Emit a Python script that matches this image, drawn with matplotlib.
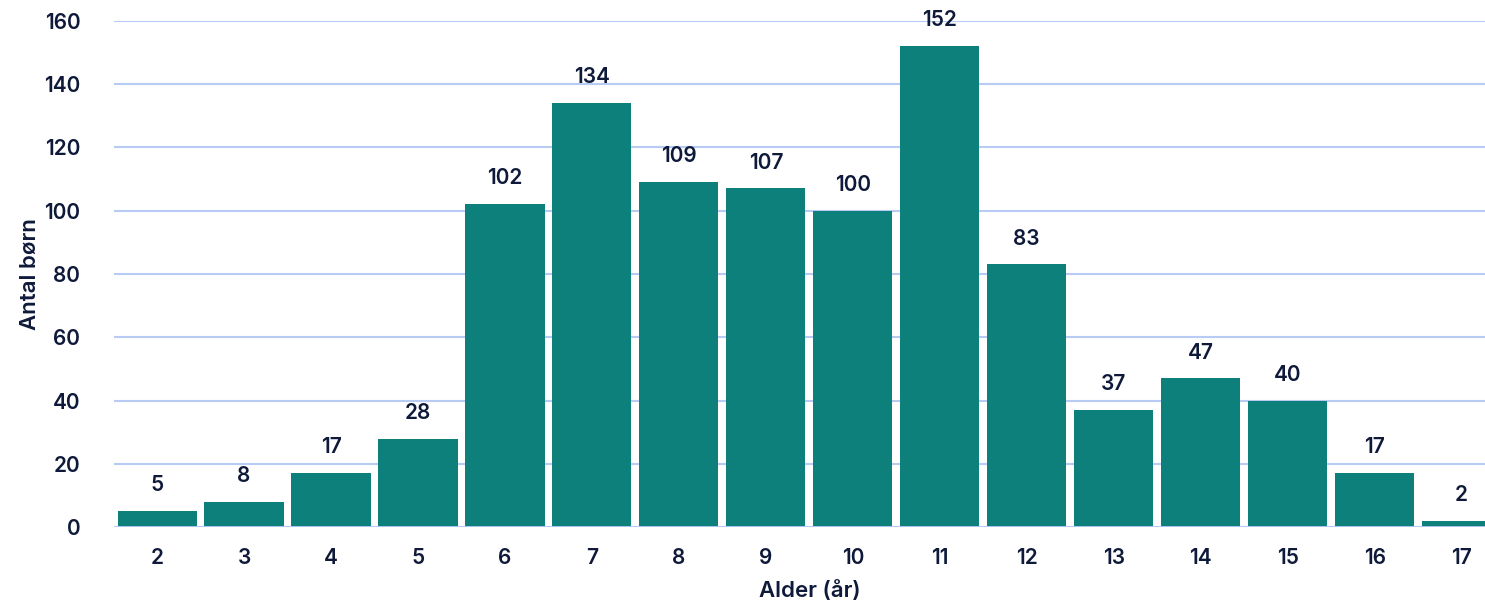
import matplotlib.pyplot as plt

ages = [2, 3, 4, 5, 6, 7, 8, 9, 10, 11, 12, 13, 14, 15, 16, 17]
counts = [5, 8, 17, 28, 102, 134, 109, 107, 100, 152, 83, 37, 47, 40, 17, 2]
yticks = [0, 20, 40, 60, 80, 100, 120, 140, 160]

BAR = '#0e807c'
GRID = '#b8cbf5'
TEXT = '#0f1a3a'

plt.rcParams['font.family'] = ['Inter', 'DejaVu Sans']
plt.rcParams['font.weight'] = 'semibold'
plt.rcParams['axes.labelweight'] = 'semibold'

fig = plt.figure(figsize=(14.85, 6.08), dpi=100)
# the last bar runs off the right edge, so the axes is wider than the figure
ax = fig.add_axes([0.0765, 0.133, 0.937, 0.833])

x = list(range(len(ages)))
bars = ax.bar(x, counts, width=0.91, color=BAR, zorder=3)
for b, v in zip(bars, counts):
    ax.text(b.get_x() + b.get_width() / 2, v + 5, str(v), ha='center', va='bottom',
            fontsize=15, color=TEXT)

ax.set_xlim(-0.5, len(ages) - 0.5)
ax.set_ylim(0, 160)
ax.set_yticks(yticks)
ax.set_xticks(x)
ax.set_xticklabels([str(a) for a in ages])
ax.grid(axis='y', color=GRID, linewidth=1.5, zorder=0)
ax.tick_params(length=0, labelsize=15, colors=TEXT, pad=15)
ax.tick_params(axis='y', pad=24)
for s in ax.spines.values():
    s.set_visible(False)
ax.axhline(0, color=GRID, linewidth=2, zorder=4)

ax.set_xlabel('Alder (år)', fontsize=16, color=TEXT, labelpad=9)
ax.set_ylabel('Antal børn', fontsize=16, color=TEXT, labelpad=3)

fig.savefig('out.png', dpi=100)
